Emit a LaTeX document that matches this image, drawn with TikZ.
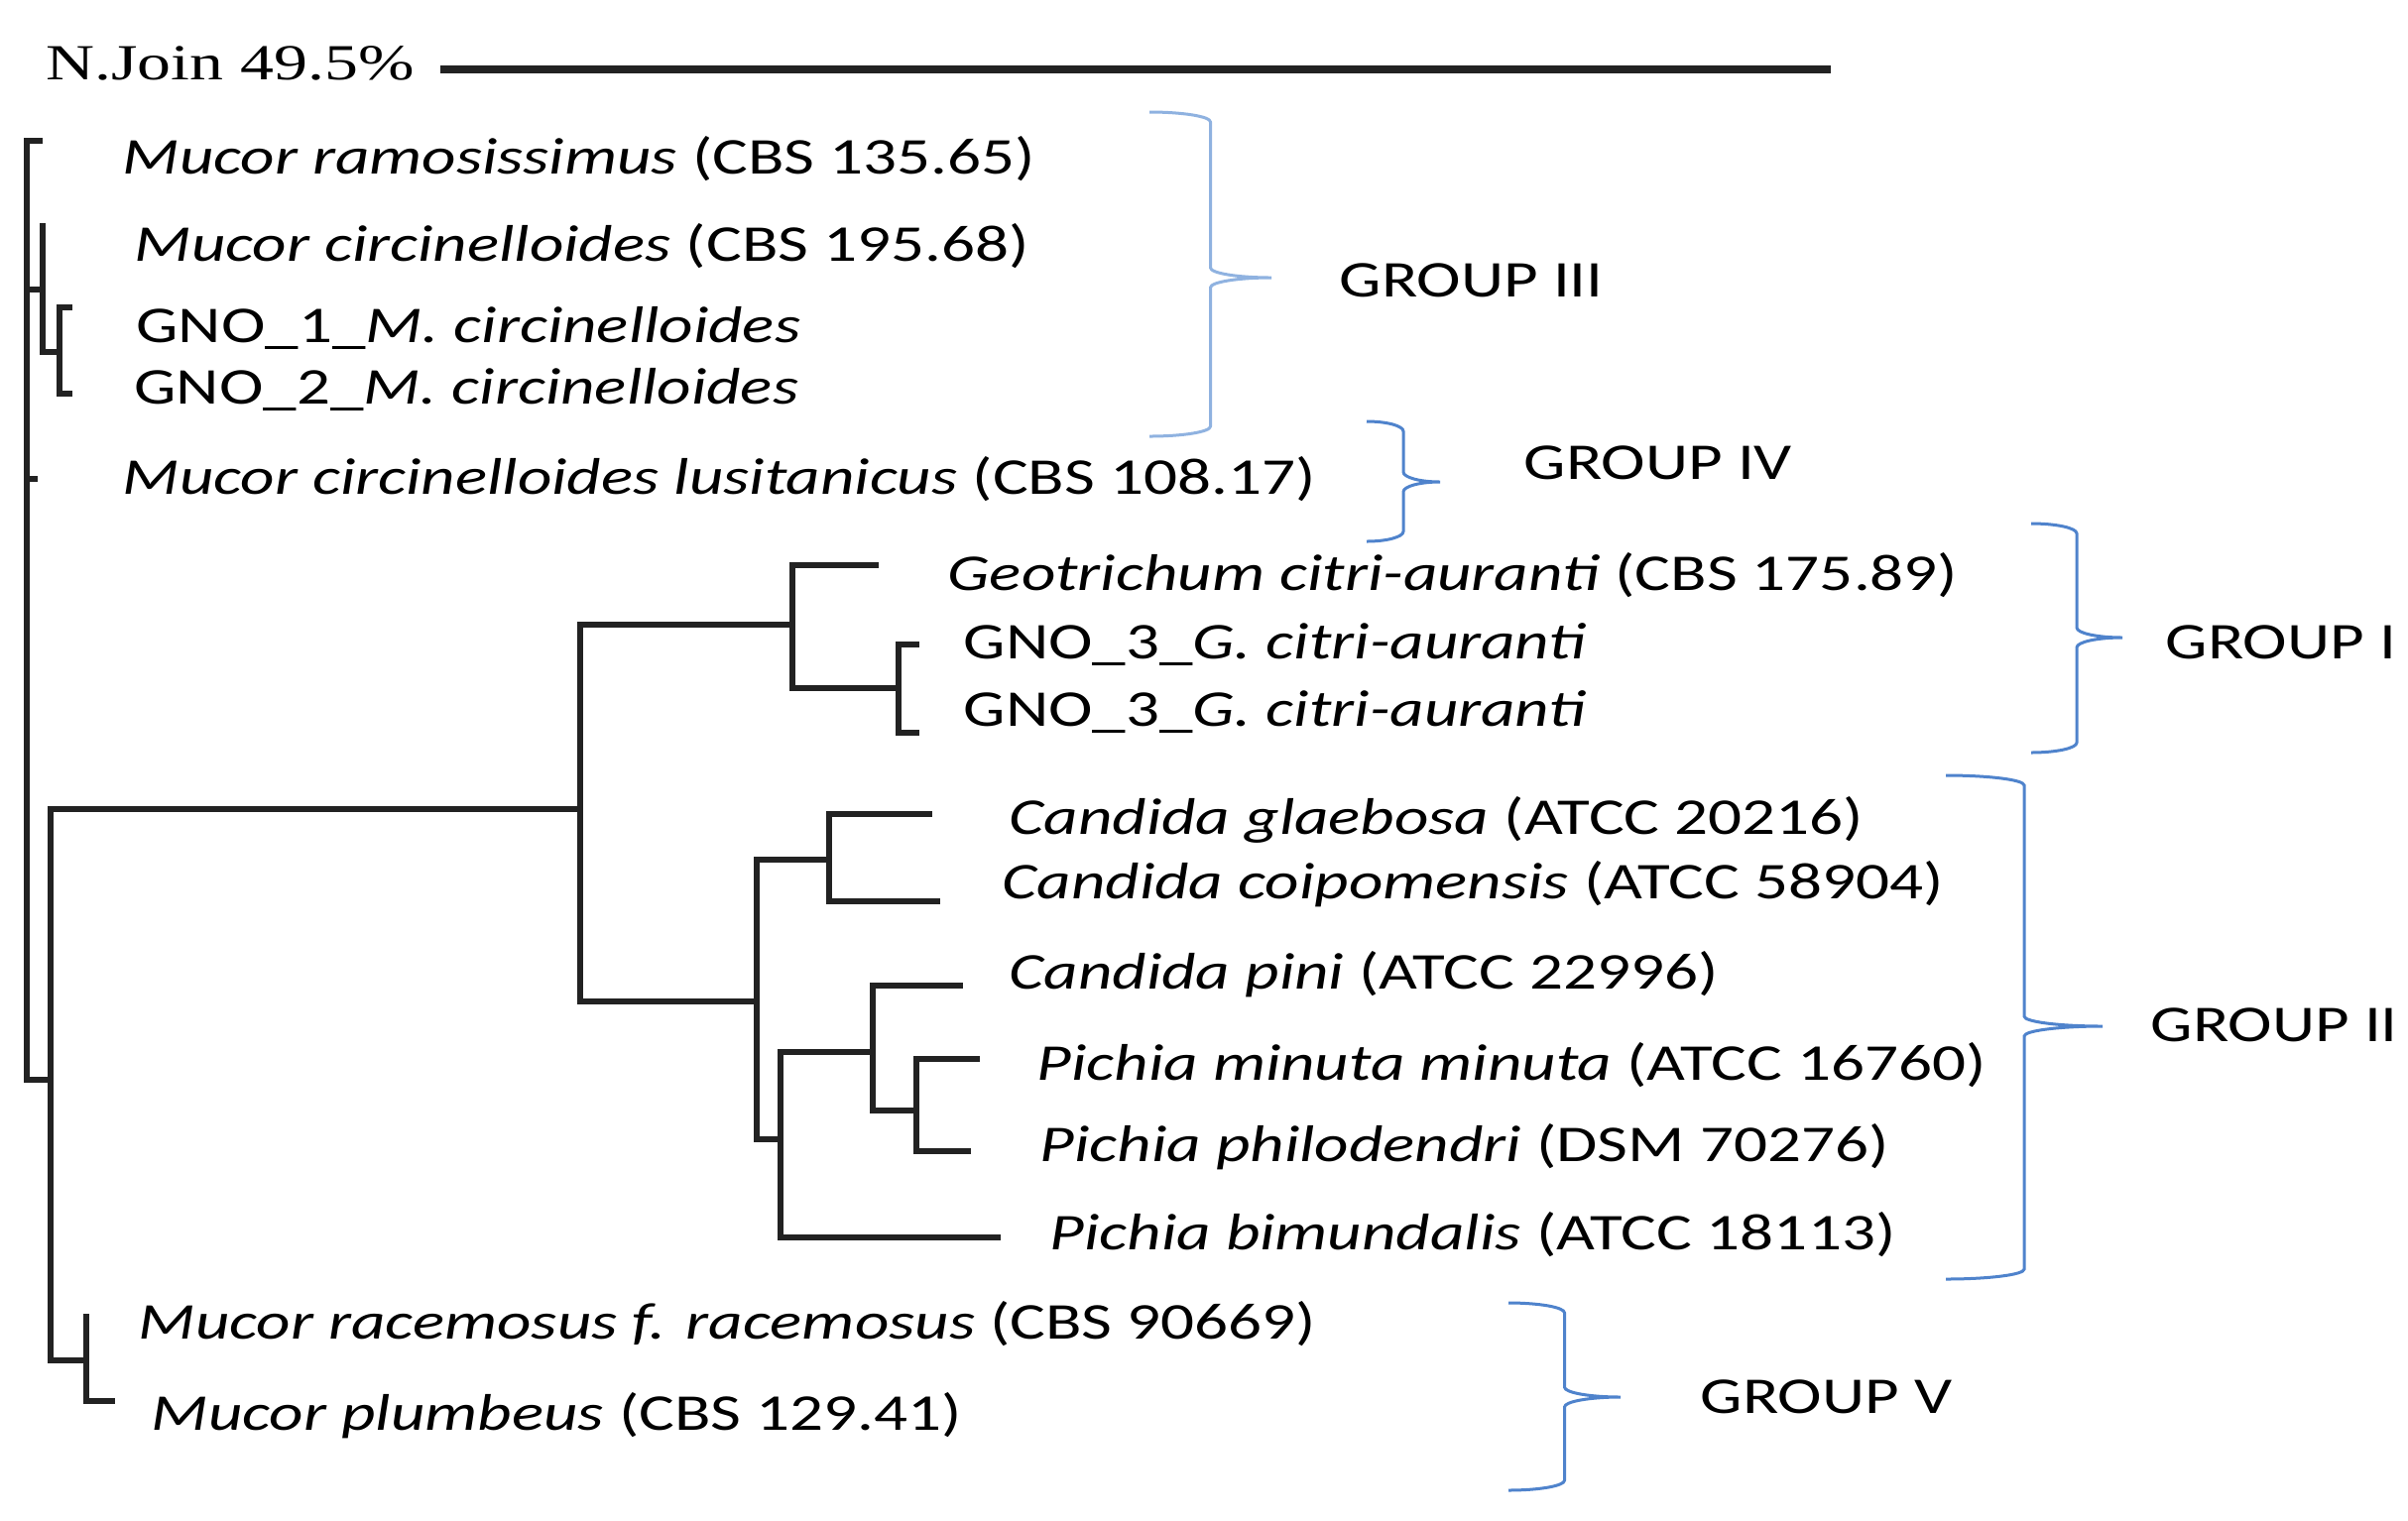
\documentclass[tikz,border=0pt]{standalone}
\usepackage{fontspec}
\setmainfont{Carlito}[FakeStretch=1.29]
\newfontfamily\timesfont{Liberation Serif}[FakeStretch=1.33]
\definecolor{branch}{HTML}{222222}
\definecolor{bracelight}{HTML}{8FB2E0}
\definecolor{bracedark}{HTML}{4F83CC}
\tikzset{
  branchline/.style={draw=branch, line width=1.8pt, line cap=rect, line join=miter},
  scalebar/.style={draw=branch, line width=2.2pt},
  leaflabel/.style={anchor=base west, inner sep=0pt, font=\fontsize{15.6}{18}\selectfont},
  grouplabel/.style={anchor=base west, inner sep=0pt, font=\fontsize{15.6}{18}\selectfont},
  braceline/.style={line width=0.9pt},
}
\newcommand\grpbrace[6]{% colour, left x, top y, tip y, bottom y, tip x
  \pgfmathsetmacro\bv{(#2+#6)/2}
  \pgfmathsetmacro\bk{0.552*(#6-#2)/2}
  \draw[braceline,#1] (#2,#3) .. controls ({#2+\bk},#3) and (\bv,{#3+4.5}) .. (\bv,{#3+10})
    -- (\bv,{#4-10}) .. controls (\bv,{#4-4.5}) and ({#6-\bk},#4) .. (#6,#4)
    .. controls ({#6-\bk},#4) and (\bv,{#4+4.5}) .. (\bv,{#4+10})
    -- (\bv,{#5-10}) .. controls (\bv,{#5-4.5}) and ({#2+\bk},#5) .. (#2,#5);
}
\begin{document}
\begin{tikzpicture}[x=0.3pt,y=-0.3pt]
\useasboundingbox (0,0) rectangle (2428,1533);

% scale
\node[anchor=base west, inner sep=0pt, font=\timesfont\fontsize{15.3}{18}\selectfont] (nj) at (46,80) {N.Join 49.5\%};
\coordinate (sb1) at (444,70);
\coordinate (sb2) at (1846,70);
\draw[scalebar] (sb1) -- (sb2);

% tree coordinates (internal nodes and leaf ends)
\coordinate (R0) at (27,1089);
\coordinate (L1) at (40,142);
\coordinate (C1) at (43,292);
\coordinate (L2) at (43,228);
\coordinate (C2) at (60,355);
\coordinate (L3) at (70,310);
\coordinate (L4) at (70,397);
\coordinate (L5) at (35,483);
\coordinate (A) at (51,1089);
\coordinate (Y) at (585,816);
\coordinate (G) at (799,630);
\coordinate (L6) at (883,570);
\coordinate (G2) at (906,694);
\coordinate (L7) at (924,650);
\coordinate (L8) at (924,739);
\coordinate (P) at (763,1010);
\coordinate (Ca) at (836,867);
\coordinate (L9) at (937,821);
\coordinate (L10) at (945,909);
\coordinate (Pi) at (787,1149);
\coordinate (Pb) at (880,1061);
\coordinate (L11) at (968,994);
\coordinate (Pc) at (924,1120);
\coordinate (L12) at (985,1068);
\coordinate (L13) at (976,1161);
\coordinate (L14) at (1006,1248);
\coordinate (V) at (87,1372);
\coordinate (L15) at (87,1328);
\coordinate (L16) at (113,1413);

% branches
\draw[branchline] (L1) -| (R0) -- (A);
\draw[branchline] (R0 |- C1) -- (C1);
\draw[branchline] (R0 |- L5) -- (L5);
\draw[branchline] (L2) -| (C1) |- (C2);
\draw[branchline] (L3) -| (C2) |- (L4);
\draw[branchline] (Y) -| (A) |- (V);
\draw[branchline] (L15) -| (V) |- (L16);
\draw[branchline] (G) -| (Y) |- (P);
\draw[branchline] (L6) -| (G) |- (G2);
\draw[branchline] (L7) -| (G2) |- (L8);
\draw[branchline] (Ca) -| (P) |- (Pi);
\draw[branchline] (L9) -| (Ca) |- (L10);
\draw[branchline] (Pb) -| (Pi) |- (L14);
\draw[branchline] (L11) -| (Pb) |- (Pc);
\draw[branchline] (L12) -| (Pc) |- (L13);

% leaf labels
\node[leaflabel] (t1) at (123,175) {\textit{Mucor ramosissimus} (CBS 135.65)};
\node[leaflabel] (t2) at (135,263) {\textit{Mucor circinelloides} (CBS 195.68)};
\node[leaflabel] (t3) at (137,345) {GNO\_1\_\textit{M. circinelloides}};
\node[leaflabel] (t4) at (135,407) {GNO\_2\_\textit{M. circinelloides}};
\node[leaflabel] (t5) at (123,498) {\textit{Mucor circinelloides lusitanicus} (CBS 108.17)};
\node[leaflabel] (t6) at (955,595) {\textit{Geotrichum citri-auranti} (CBS 175.89)};
\node[leaflabel] (t7) at (971,664) {GNO\_3\_\textit{G. citri-auranti}};
\node[leaflabel] (t8) at (971,732) {GNO\_3\_\textit{G. citri-auranti}};
\node[leaflabel] (t9) at (1017,841) {\textit{Candida glaebosa} (ATCC 20216)};
\node[leaflabel] (t10) at (1010,906) {\textit{Candida coipomensis} (ATCC 58904)};
\node[leaflabel] (t11) at (1017,997) {\textit{Candida pini} (ATCC 22996)};
\node[leaflabel] (t12) at (1045,1089) {\textit{Pichia minuta minuta} (ATCC 16760)};
\node[leaflabel] (t13) at (1048,1171) {\textit{Pichia philodendri} (DSM 70276)};
\node[leaflabel] (t14) at (1058,1260) {\textit{Pichia bimundalis} (ATCC 18113)};
\node[leaflabel] (t15) at (139,1350) {\textit{Mucor racemosus f. racemosus} (CBS 90669)};
\node[leaflabel] (t16) at (152,1442) {\textit{Mucor plumbeus} (CBS 129.41)};

% group braces
\grpbrace{bracelight}{1159}{113}{280}{440}{1282}
\grpbrace{bracedark}{1378}{425}{486}{546}{1452}
\grpbrace{bracedark}{2048}{528}{643}{759}{2140}
\grpbrace{bracedark}{1962}{782}{1035}{1290}{2120}
\grpbrace{bracedark}{1521}{1314}{1409}{1503}{1634}

% group labels
\node[grouplabel] (g3) at (1350,299) {GROUP III};
\node[grouplabel] (g4) at (1536,483) {GROUP IV};
\node[grouplabel] (g1) at (2183,664) {GROUP I};
\node[grouplabel] (g2) at (2168,1050) {GROUP II};
\node[grouplabel] (g5) at (1714,1425) {GROUP V};
\end{tikzpicture}
\end{document}
